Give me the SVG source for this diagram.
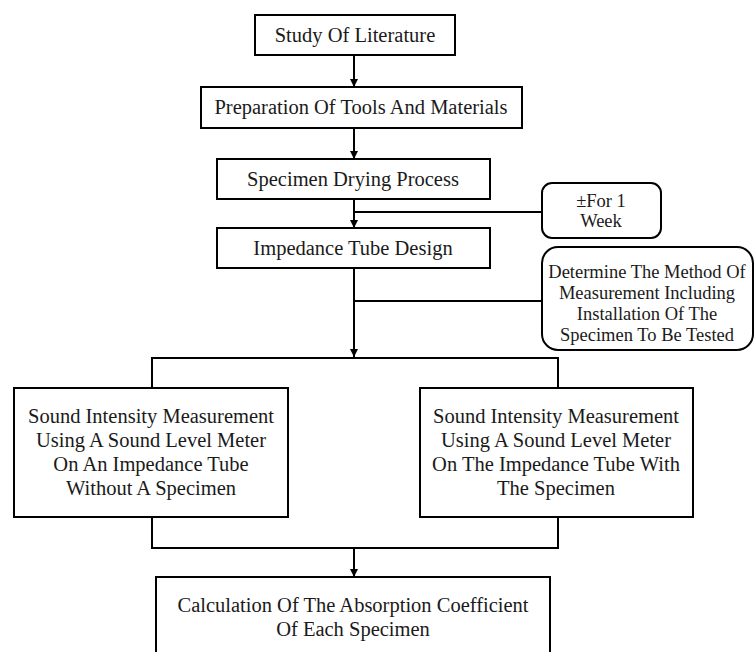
<svg xmlns="http://www.w3.org/2000/svg" width="755" height="652" viewBox="0 0 755 652">
<style>
.box{fill:#fff;stroke:#000;stroke-width:2}
.t{font-family:"Liberation Serif","Times New Roman",serif;font-size:20.5px;fill:#1a1a1a;text-anchor:middle}
.s{font-size:18.5px}
.c{fill:none;stroke:#000;stroke-width:2}
</style>
<defs>
<marker id="ah" markerUnits="userSpaceOnUse" markerWidth="8" markerHeight="9" refX="8" refY="4" orient="auto">
<path d="M0,0 L8,4 L0,8 Z" fill="#000"/>
</marker>
</defs>
<rect width="755" height="652" fill="#fff"/>
<g id="connectors">
<line class="c" x1="354" y1="55" x2="354" y2="87" marker-end="url(#ah)"/>
<line class="c" x1="354" y1="128" x2="354" y2="159" marker-end="url(#ah)"/>
<line class="c" x1="354" y1="199" x2="354" y2="228" marker-end="url(#ah)"/>
<line class="c" x1="354" y1="212" x2="542" y2="212"/>
<line class="c" x1="354" y1="268" x2="354" y2="357" marker-end="url(#ah)"/>
<line class="c" x1="354" y1="301" x2="542" y2="301"/>
<polyline class="c" points="152,388 152,358 558,358 558,388"/>
<polyline class="c" points="152,517 152,548 558,548 558,517"/>
<line class="c" x1="354" y1="548" x2="354" y2="577" marker-end="url(#ah)"/>
</g>
<g id="n1">
<rect class="box" x="255" y="15" width="200" height="40"/>
<text class="t" x="355" y="42">Study Of Literature</text>
</g>
<g id="n2">
<rect class="box" x="201" y="87" width="321" height="41"/>
<text class="t" x="361" y="114">Preparation Of Tools And Materials</text>
</g>
<g id="n3">
<rect class="box" x="217" y="159" width="273" height="40"/>
<text class="t" x="353" y="186">Specimen Drying Process</text>
</g>
<g id="n4">
<rect class="box" x="217" y="228" width="273" height="40"/>
<text class="t" x="353" y="255">Impedance Tube Design</text>
</g>
<g id="note1">
<rect class="box" x="542" y="183" width="119" height="55" rx="10"/>
<text class="t s" x="601" y="207">±For 1</text>
<text class="t s" x="601" y="227">Week</text>
</g>
<g id="note2">
<rect class="box" x="542" y="247" width="211" height="103" rx="16"/>
<text class="t s" x="647" y="278">Determine The Method Of</text>
<text class="t s" x="647" y="299">Measurement Including</text>
<text class="t s" x="647" y="320">Installation Of The</text>
<text class="t s" x="647" y="341">Specimen To Be Tested</text>
</g>
<g id="n5">
<rect class="box" x="14" y="388" width="274" height="129"/>
<text class="t" x="151" y="423">Sound Intensity Measurement</text>
<text class="t" x="151" y="447">Using A Sound Level Meter</text>
<text class="t" x="151" y="471">On An Impedance Tube</text>
<text class="t" x="151" y="495">Without A Specimen</text>
</g>
<g id="n6">
<rect class="box" x="420" y="388" width="273" height="129"/>
<text class="t" x="556" y="423">Sound Intensity Measurement</text>
<text class="t" x="556" y="447">Using A Sound Level Meter</text>
<text class="t" x="556" y="471">On The Impedance Tube With</text>
<text class="t" x="556" y="495">The Specimen</text>
</g>
<g id="n7">
<rect class="box" x="156" y="577" width="394" height="90"/>
<text class="t" x="353" y="612">Calculation Of The Absorption Coefficient</text>
<text class="t" x="353" y="636">Of Each Specimen</text>
</g>
</svg>
